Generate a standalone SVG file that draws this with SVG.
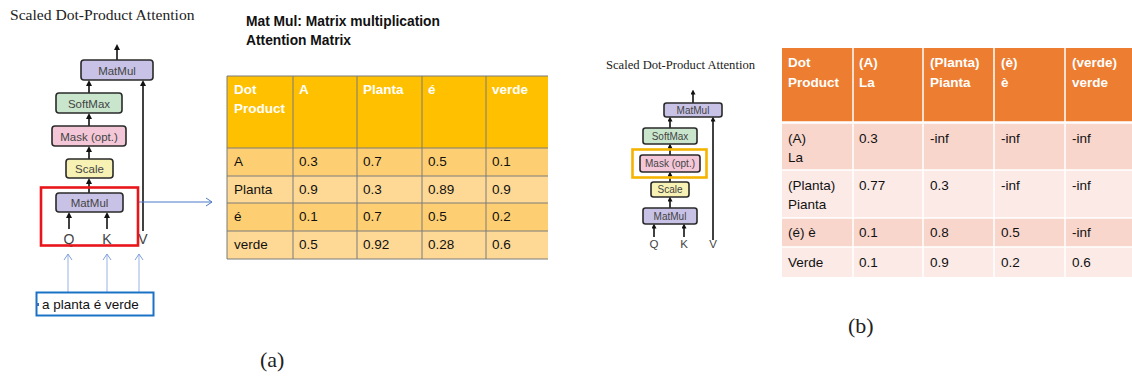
<svg xmlns="http://www.w3.org/2000/svg" width="1132" height="378" viewBox="0 0 1132 378">
<style>
.ser{font-family:"Liberation Serif","Times New Roman",serif;fill:#222}
.box{stroke:#2a2a2a;stroke-width:1.6}
.mm{fill:#c8c2e6}.sm{fill:#c9e6cd}.mk{fill:#f4c7d8}.sc{fill:#f7f1b3}
.bl{font-family:"Liberation Sans",Arial,sans-serif;fill:#444}
.ar{stroke:#111;stroke-width:1.6;fill:none}
.blu{stroke:#4a78c9;stroke-width:1;fill:none}
.lb{stroke:#a9bfe6;stroke-width:1.2;fill:none}
.t{font-family:"Liberation Sans",Arial,sans-serif;font-size:13.5px;fill:#111}
.th{font-family:"Liberation Sans",Arial,sans-serif;font-size:13.5px;font-weight:bold;fill:#fff}
</style>
<defs>
<marker id="ah" markerWidth="6" markerHeight="6" refX="3" refY="3" orient="auto" markerUnits="userSpaceOnUse"><path d="M0,0 L6,3 L0,6 z" fill="#111"/></marker>
<marker id="ahs" markerWidth="5" markerHeight="5" refX="2.5" refY="2.5" orient="auto" markerUnits="userSpaceOnUse"><path d="M0,0 L5,2.5 L0,5 z" fill="#111"/></marker>
<marker id="ob" markerWidth="8" markerHeight="10" refX="7" refY="5" orient="auto" markerUnits="userSpaceOnUse"><path d="M1,1 L7,5 L1,9" fill="none" stroke="#4a78c9" stroke-width="1"/></marker>
<marker id="obl" markerWidth="8" markerHeight="10" refX="7" refY="5" orient="auto" markerUnits="userSpaceOnUse"><path d="M1,1 L7,5 L1,9" fill="none" stroke="#7fa0dc" stroke-width="1"/></marker>
</defs>

<!-- ===== Panel (a) diagram ===== -->
<text class="ser" x="10" y="20" font-size="15.6">Scaled Dot-Product Attention</text>

<g id="connectors-a">
<line class="ar" x1="117" y1="60" x2="117" y2="47" marker-end="url(#ah)"/>
<line class="ar" x1="89" y1="93" x2="89" y2="83" marker-end="url(#ah)"/>
<line class="ar" x1="89" y1="126" x2="89" y2="116" marker-end="url(#ah)"/>
<line class="ar" x1="89" y1="159" x2="89" y2="149" marker-end="url(#ah)"/>
<line class="ar" x1="89" y1="193" x2="89" y2="181" marker-end="url(#ah)"/>
<line class="ar" x1="69" y1="229" x2="69" y2="215" marker-end="url(#ah)"/>
<line class="ar" x1="107" y1="229" x2="107" y2="215" marker-end="url(#ah)"/>
<line class="ar" x1="143" y1="231" x2="143" y2="83" marker-end="url(#ah)"/>
<line class="blu" x1="139" y1="202" x2="212" y2="202" marker-end="url(#ob)"/>
<line class="lb" x1="68" y1="292" x2="68" y2="254" marker-end="url(#obl)"/>
<line class="lb" x1="107" y1="292" x2="107" y2="254" marker-end="url(#obl)"/>
<line class="lb" x1="139" y1="292" x2="139" y2="254" marker-end="url(#obl)"/>
</g>

<g id="a-matmul-top"><rect class="box mm" x="81" y="60" width="72" height="20" rx="3"/><text class="bl" x="117" y="74.5" font-size="11.5" text-anchor="middle">MatMul</text></g>
<g id="a-softmax"><rect class="box sm" x="56" y="93" width="66" height="20" rx="3"/><text class="bl" x="89" y="107.5" font-size="11.5" text-anchor="middle">SoftMax</text></g>
<g id="a-mask"><rect class="box mk" x="52" y="126" width="74" height="20" rx="3"/><text class="bl" x="89" y="140.5" font-size="11.5" text-anchor="middle">Mask (opt.)</text></g>
<g id="a-scale"><rect class="box sc" x="66" y="159" width="47" height="19" rx="3"/><text class="bl" x="89.5" y="173" font-size="11.5" text-anchor="middle">Scale</text></g>
<g id="a-matmul-bot"><rect class="box mm" x="56" y="193" width="67" height="19" rx="3"/><text class="bl" x="89.5" y="207" font-size="11.5" text-anchor="middle">MatMul</text></g>
<g id="a-qkv">
<text class="bl" x="69" y="244" font-size="14" text-anchor="middle" fill="#666">Q</text>
<text class="bl" x="107" y="244" font-size="14" text-anchor="middle" fill="#666">K</text>
<text class="bl" x="143" y="244" font-size="14" text-anchor="middle" fill="#666">V</text>
</g>
<g id="a-red-highlight"><rect x="41" y="187.5" width="97" height="58" fill="none" stroke="#e8161b" stroke-width="2.6"/></g>
<g id="a-input">
<rect x="36.5" y="292.5" width="117" height="23" fill="#fff" stroke="#1a72c4" stroke-width="2"/>
<rect x="36" y="303" width="3" height="3" fill="#3a6cc0"/>
<text class="t" x="42" y="309" font-size="12.5">a planta é verde</text>
</g>
<text class="ser" x="260" y="367" font-size="22">(a)</text>

<!-- ===== Table (a) ===== -->
<g id="table-a">
<text x="246" y="26" font-family="Liberation Sans,Arial,sans-serif" font-size="13.8" font-weight="bold" fill="#111">Mat Mul: Matrix multiplication</text>
<text x="246" y="45" font-family="Liberation Sans,Arial,sans-serif" font-size="13.8" font-weight="bold" fill="#111">Attention Matrix</text>
<rect x="227" y="76" width="321" height="72" fill="#ffc000"/>
<rect x="227" y="148" width="321" height="28" fill="#fecf72"/>
<rect x="227" y="176" width="321" height="27" fill="#fed995"/>
<rect x="227" y="203" width="321" height="28" fill="#fecf72"/>
<rect x="227" y="231" width="321" height="28" fill="#fed995"/>
<g stroke="#7a7a7a" stroke-width="1">
<line x1="227" y1="76" x2="548" y2="76"/>
<line x1="227" y1="148" x2="548" y2="148"/>
<line x1="227" y1="176" x2="548" y2="176"/>
<line x1="227" y1="203" x2="548" y2="203"/>
<line x1="227" y1="231" x2="548" y2="231"/>
<line x1="227" y1="259" x2="548" y2="259"/>
<line x1="227" y1="76" x2="227" y2="259"/>
<line x1="293" y1="76" x2="293" y2="259"/>
<line x1="357" y1="76" x2="357" y2="259"/>
<line x1="422" y1="76" x2="422" y2="259"/>
<line x1="486" y1="76" x2="486" y2="259"/>
</g>
<text class="th" x="234" y="94">Dot</text>
<text class="th" x="234" y="113">Product</text>
<text class="th" x="299" y="94">A</text>
<text class="th" x="363" y="94">Planta</text>
<text class="th" x="428" y="94">é</text>
<text class="th" x="492" y="94">verde</text>
<text class="t" x="234" y="166">A</text><text class="t" x="299" y="166">0.3</text><text class="t" x="363" y="166">0.7</text><text class="t" x="428" y="166">0.5</text><text class="t" x="492" y="166">0.1</text>
<text class="t" x="234" y="194">Planta</text><text class="t" x="299" y="194">0.9</text><text class="t" x="363" y="194">0.3</text><text class="t" x="428" y="194">0.89</text><text class="t" x="492" y="194">0.9</text>
<text class="t" x="234" y="221">é</text><text class="t" x="299" y="221">0.1</text><text class="t" x="363" y="221">0.7</text><text class="t" x="428" y="221">0.5</text><text class="t" x="492" y="221">0.2</text>
<text class="t" x="234" y="249">verde</text><text class="t" x="299" y="249">0.5</text><text class="t" x="363" y="249">0.92</text><text class="t" x="428" y="249">0.28</text><text class="t" x="492" y="249">0.6</text>
</g>

<!-- ===== Panel (b) diagram ===== -->
<text class="ser" x="606" y="69" font-size="12.6">Scaled Dot-Product Attention</text>
<g id="connectors-b">
<line class="ar" stroke-width="1.3" x1="693" y1="103" x2="693" y2="92" marker-end="url(#ahs)"/>
<line class="ar" stroke-width="1.3" x1="670" y1="128" x2="670" y2="119" marker-end="url(#ahs)"/>
<line class="ar" stroke-width="1.3" x1="670" y1="155" x2="670" y2="146" marker-end="url(#ahs)"/>
<line class="ar" stroke-width="1.3" x1="670" y1="182" x2="670" y2="174" marker-end="url(#ahs)"/>
<line class="ar" stroke-width="1.3" x1="670" y1="208" x2="670" y2="199" marker-end="url(#ahs)"/>
<line class="ar" stroke-width="1.3" x1="654" y1="237" x2="654" y2="226" marker-end="url(#ahs)"/>
<line class="ar" stroke-width="1.3" x1="684" y1="237" x2="684" y2="226" marker-end="url(#ahs)"/>
<line class="ar" stroke-width="1.3" x1="713" y1="240" x2="713" y2="119" marker-end="url(#ahs)"/>
</g>
<g id="b-matmul-top"><rect class="box mm" stroke-width="1.3" x="664" y="103" width="58" height="14" rx="2.5"/><text class="bl" x="693" y="113.8" font-size="10" text-anchor="middle">MatMul</text></g>
<g id="b-softmax"><rect class="box sm" stroke-width="1.3" x="643" y="128" width="54" height="16" rx="2.5"/><text class="bl" x="670" y="139.8" font-size="10" text-anchor="middle">SoftMax</text></g>
<g id="b-mask"><rect class="box mk" stroke-width="1.3" x="640" y="155" width="60" height="17" rx="2.5"/><text class="bl" x="670" y="167.3" font-size="10" text-anchor="middle">Mask (opt.)</text></g>
<g id="b-scale"><rect class="box sc" stroke-width="1.3" x="651" y="182" width="38" height="15" rx="2.5"/><text class="bl" x="670" y="193.3" font-size="10" text-anchor="middle">Scale</text></g>
<g id="b-matmul-bot"><rect class="box mm" stroke-width="1.3" x="643" y="208" width="54" height="16" rx="2.5"/><text class="bl" x="670" y="219.8" font-size="10" text-anchor="middle">MatMul</text></g>
<g id="b-qkv">
<text class="bl" x="654" y="248" font-size="11.5" text-anchor="middle" fill="#666">Q</text>
<text class="bl" x="684" y="248" font-size="11.5" text-anchor="middle" fill="#666">K</text>
<text class="bl" x="713" y="248" font-size="11.5" text-anchor="middle" fill="#666">V</text>
</g>
<g id="b-orange-highlight"><rect x="632.5" y="149.5" width="74" height="28" fill="none" stroke="#f5b300" stroke-width="2.6"/></g>
<text class="ser" x="848" y="333" font-size="22">(b)</text>

<!-- ===== Table (b) ===== -->
<g id="table-b">
<rect x="782" y="48" width="350" height="74" fill="#ed7d31"/>
<rect x="782" y="123" width="350" height="47" fill="#f8d6cc"/>
<rect x="782" y="170" width="350" height="48" fill="#fbeae6"/>
<rect x="782" y="218" width="350" height="29" fill="#f8d6cc"/>
<rect x="782" y="247" width="350" height="30" fill="#fbeae6"/>
<g stroke="#fff" stroke-width="1.5">
<line x1="782" y1="122.5" x2="1132" y2="122.5" stroke-width="2.5"/>
<line x1="782" y1="170" x2="1132" y2="170"/>
<line x1="782" y1="218" x2="1132" y2="218"/>
<line x1="782" y1="247" x2="1132" y2="247"/>
<line x1="853" y1="48" x2="853" y2="277"/>
<line x1="923" y1="48" x2="923" y2="277"/>
<line x1="994" y1="48" x2="994" y2="277"/>
<line x1="1065" y1="48" x2="1065" y2="277"/>
</g>
<g>
<text class="th" font-size="14" x="788" y="67">Dot</text><text class="th" font-size="14" x="788" y="87">Product</text>
<text class="th" font-size="14" x="859" y="67">(A)</text><text class="th" font-size="14" x="859" y="87">La</text>
<text class="th" font-size="14" x="930" y="67">(Planta)</text><text class="th" font-size="14" x="930" y="87">Pianta</text>
<text class="th" font-size="14" x="1001" y="67">(è)</text><text class="th" font-size="14" x="1001" y="87">è</text>
<text class="th" font-size="14" x="1072" y="67">(verde)</text><text class="th" font-size="14" x="1072" y="87">verde</text>
<text class="t" font-size="14" x="788" y="143">(A)</text><text class="t" font-size="14" x="788" y="162">La</text>
<text class="t" font-size="14" x="859" y="143">0.3</text><text class="t" font-size="14" x="930" y="143">-inf</text><text class="t" font-size="14" x="1001" y="143">-inf</text><text class="t" font-size="14" x="1072" y="143">-inf</text>
<text class="t" font-size="14" x="788" y="190">(Planta)</text><text class="t" font-size="14" x="788" y="209">Pianta</text>
<text class="t" font-size="14" x="859" y="190">0.77</text><text class="t" font-size="14" x="930" y="190">0.3</text><text class="t" font-size="14" x="1001" y="190">-inf</text><text class="t" font-size="14" x="1072" y="190">-inf</text>
<text class="t" font-size="14" x="788" y="237">(é) è</text>
<text class="t" font-size="14" x="859" y="237">0.1</text><text class="t" font-size="14" x="930" y="237">0.8</text><text class="t" font-size="14" x="1001" y="237">0.5</text><text class="t" font-size="14" x="1072" y="237">-inf</text>
<text class="t" font-size="14" x="788" y="267">Verde</text>
<text class="t" font-size="14" x="859" y="267">0.1</text><text class="t" font-size="14" x="930" y="267">0.9</text><text class="t" font-size="14" x="1001" y="267">0.2</text><text class="t" font-size="14" x="1072" y="267">0.6</text>
</g>
</g>
</svg>
